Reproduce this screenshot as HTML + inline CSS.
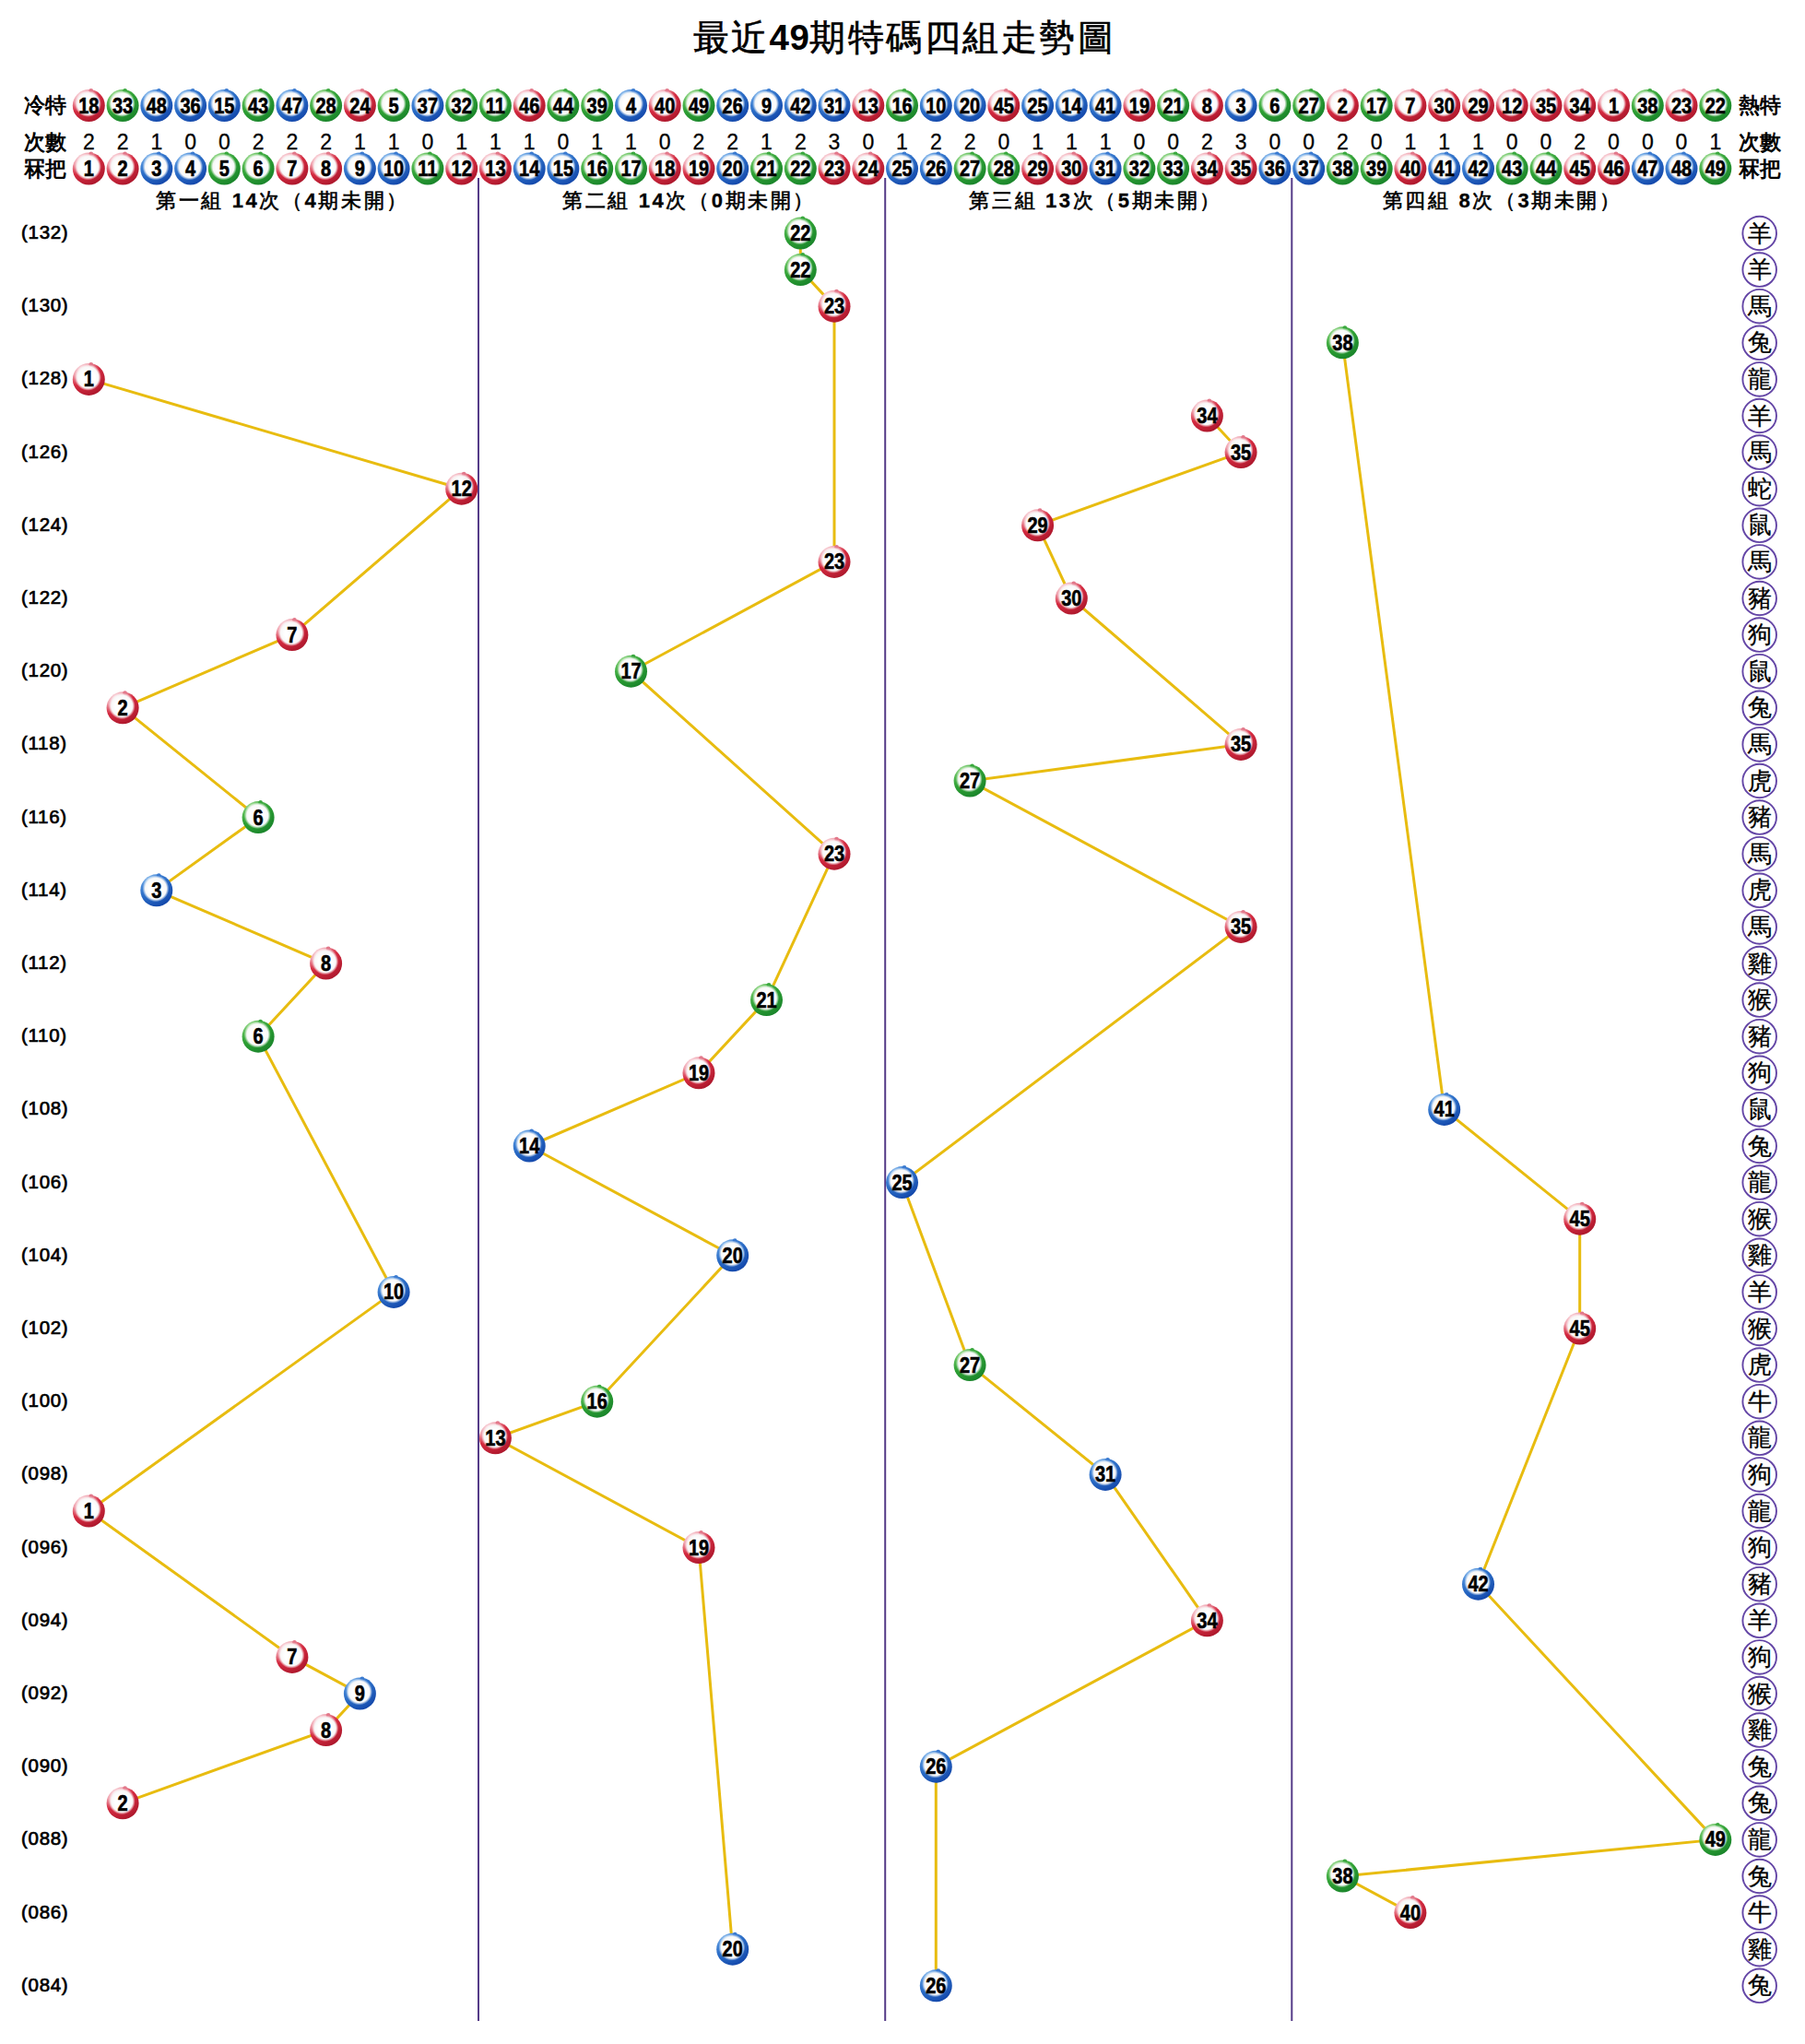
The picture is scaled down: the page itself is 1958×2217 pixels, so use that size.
<!DOCTYPE html>
<html><head><meta charset="utf-8"><style>
html,body{margin:0;padding:0;background:#fff;}
body{width:1958px;height:2217px;position:relative;overflow:hidden;font-family:"Liberation Sans",sans-serif;color:#000;}
.t{position:absolute;white-space:nowrap;line-height:1;}
svg{position:absolute;left:0;top:0;}
.bn{font-family:"Liberation Sans",sans-serif;font-weight:bold;font-size:23px;text-anchor:middle;fill:#000;stroke:#000;stroke-width:0.6px;}
.zc{font-family:"Liberation Serif",serif;font-size:26px;text-anchor:middle;fill:#000;stroke:#000;stroke-width:0.3px;}
.lab{font-family:"Liberation Sans",sans-serif;font-size:23px;font-weight:bold;fill:#000;}
.cnt{font-family:"Liberation Sans",sans-serif;font-size:23px;text-anchor:middle;fill:#000;stroke:#000;stroke-width:0.3px;}
.per{font-family:"Liberation Sans",sans-serif;font-size:20.5px;fill:#000;letter-spacing:0.7px;stroke:#000;stroke-width:0.7px;}
.gh{font-family:"Liberation Sans",sans-serif;font-size:22px;font-weight:normal;text-anchor:middle;fill:#000;letter-spacing:2.6px;stroke:#000;stroke-width:0.6px;}
.ttl{font-family:"Liberation Sans",sans-serif;font-size:39px;font-weight:normal;text-anchor:middle;fill:#000;letter-spacing:2.5px;stroke:#000;stroke-width:0.6px;}
</style></head><body>
<svg width="1958" height="2217" viewBox="0 0 1958 2217">
<defs>
<radialGradient id="or" cx="0.3" cy="0.2" r="0.95"><stop offset="0" stop-color="#fbe4e8"/><stop offset="0.3" stop-color="#f0a4b0"/><stop offset="0.55" stop-color="#d42a40"/><stop offset="1" stop-color="#a01226"/></radialGradient>
<g id="br"><circle r="17.5" fill="url(#or)"/><circle cx="2.5" cy="-16.2" r="2.3" fill="#e2788a"/><circle cx="-0.8" cy="-2" r="14.4" fill="url(#wi)"/></g>
<radialGradient id="og" cx="0.3" cy="0.2" r="0.95"><stop offset="0" stop-color="#b0e4a4"/><stop offset="0.3" stop-color="#5cbc58"/><stop offset="0.55" stop-color="#2ea034"/><stop offset="1" stop-color="#137c28"/></radialGradient>
<g id="bg"><circle r="17.5" fill="url(#og)"/><circle cx="2.5" cy="-16.2" r="2.3" fill="#3aa83e"/><circle cx="-0.8" cy="-2" r="14.4" fill="url(#wi)"/></g>
<radialGradient id="ob" cx="0.3" cy="0.2" r="0.95"><stop offset="0" stop-color="#a8d0f4"/><stop offset="0.3" stop-color="#4a8ad8"/><stop offset="0.55" stop-color="#2a6cc6"/><stop offset="1" stop-color="#0c3ca2"/></radialGradient>
<g id="bb"><circle r="17.5" fill="url(#ob)"/><circle cx="2.5" cy="-16.2" r="2.3" fill="#3a7ad0"/><circle cx="-0.8" cy="-2" r="14.4" fill="url(#wi)"/></g>
<radialGradient id="wi" cx="0.5" cy="0.5" r="0.5">
<stop offset="0" stop-color="#ffffff"/><stop offset="0.5" stop-color="#ffffff"/><stop offset="0.8" stop-color="#f8f8f8" stop-opacity="1"/><stop offset="1" stop-color="#ffffff" stop-opacity="0"/></radialGradient>
</defs>
<text x="981" y="54" class="ttl">最近<tspan style="font-size:38.5px;letter-spacing:0.5px;font-weight:bold;stroke-width:0">49</tspan>期特碼四組走勢圖</text>
<text x="26" y="122" class="lab">冷特</text>
<text x="26" y="162" class="lab">次數</text>
<text x="26" y="191" class="lab">冧把</text>
<text x="1886" y="122" class="lab">熱特</text>
<text x="1886" y="162" class="lab">次數</text>
<text x="1886" y="191" class="lab">冧把</text>
<g transform="translate(96.3,114.5)"><use href="#br"/><text x="0" y="8.0" class="bn" transform="scale(0.87,1)">18</text></g><g transform="translate(133.1,114.5)"><use href="#bg"/><text x="0" y="8.0" class="bn" transform="scale(0.87,1)">33</text></g><g transform="translate(169.8,114.5)"><use href="#bb"/><text x="0" y="8.0" class="bn" transform="scale(0.87,1)">48</text></g><g transform="translate(206.6,114.5)"><use href="#bb"/><text x="0" y="8.0" class="bn" transform="scale(0.87,1)">36</text></g><g transform="translate(243.3,114.5)"><use href="#bb"/><text x="0" y="8.0" class="bn" transform="scale(0.87,1)">15</text></g><g transform="translate(280.1,114.5)"><use href="#bg"/><text x="0" y="8.0" class="bn" transform="scale(0.87,1)">43</text></g><g transform="translate(316.9,114.5)"><use href="#bb"/><text x="0" y="8.0" class="bn" transform="scale(0.87,1)">47</text></g><g transform="translate(353.6,114.5)"><use href="#bg"/><text x="0" y="8.0" class="bn" transform="scale(0.87,1)">28</text></g><g transform="translate(390.4,114.5)"><use href="#br"/><text x="0" y="8.0" class="bn" transform="scale(0.87,1)">24</text></g><g transform="translate(427.1,114.5)"><use href="#bg"/><text x="0" y="8.0" class="bn" transform="scale(0.87,1)">5</text></g><g transform="translate(463.9,114.5)"><use href="#bb"/><text x="0" y="8.0" class="bn" transform="scale(0.87,1)">37</text></g><g transform="translate(500.7,114.5)"><use href="#bg"/><text x="0" y="8.0" class="bn" transform="scale(0.87,1)">32</text></g><g transform="translate(537.4,114.5)"><use href="#bg"/><text x="0" y="8.0" class="bn" transform="scale(0.87,1)">11</text></g><g transform="translate(574.2,114.5)"><use href="#br"/><text x="0" y="8.0" class="bn" transform="scale(0.87,1)">46</text></g><g transform="translate(610.9,114.5)"><use href="#bg"/><text x="0" y="8.0" class="bn" transform="scale(0.87,1)">44</text></g><g transform="translate(647.7,114.5)"><use href="#bg"/><text x="0" y="8.0" class="bn" transform="scale(0.87,1)">39</text></g><g transform="translate(684.5,114.5)"><use href="#bb"/><text x="0" y="8.0" class="bn" transform="scale(0.87,1)">4</text></g><g transform="translate(721.2,114.5)"><use href="#br"/><text x="0" y="8.0" class="bn" transform="scale(0.87,1)">40</text></g><g transform="translate(758.0,114.5)"><use href="#bg"/><text x="0" y="8.0" class="bn" transform="scale(0.87,1)">49</text></g><g transform="translate(794.7,114.5)"><use href="#bb"/><text x="0" y="8.0" class="bn" transform="scale(0.87,1)">26</text></g><g transform="translate(831.5,114.5)"><use href="#bb"/><text x="0" y="8.0" class="bn" transform="scale(0.87,1)">9</text></g><g transform="translate(868.3,114.5)"><use href="#bb"/><text x="0" y="8.0" class="bn" transform="scale(0.87,1)">42</text></g><g transform="translate(905.0,114.5)"><use href="#bb"/><text x="0" y="8.0" class="bn" transform="scale(0.87,1)">31</text></g><g transform="translate(941.8,114.5)"><use href="#br"/><text x="0" y="8.0" class="bn" transform="scale(0.87,1)">13</text></g><g transform="translate(978.5,114.5)"><use href="#bg"/><text x="0" y="8.0" class="bn" transform="scale(0.87,1)">16</text></g><g transform="translate(1015.3,114.5)"><use href="#bb"/><text x="0" y="8.0" class="bn" transform="scale(0.87,1)">10</text></g><g transform="translate(1052.1,114.5)"><use href="#bb"/><text x="0" y="8.0" class="bn" transform="scale(0.87,1)">20</text></g><g transform="translate(1088.8,114.5)"><use href="#br"/><text x="0" y="8.0" class="bn" transform="scale(0.87,1)">45</text></g><g transform="translate(1125.6,114.5)"><use href="#bb"/><text x="0" y="8.0" class="bn" transform="scale(0.87,1)">25</text></g><g transform="translate(1162.3,114.5)"><use href="#bb"/><text x="0" y="8.0" class="bn" transform="scale(0.87,1)">14</text></g><g transform="translate(1199.1,114.5)"><use href="#bb"/><text x="0" y="8.0" class="bn" transform="scale(0.87,1)">41</text></g><g transform="translate(1235.9,114.5)"><use href="#br"/><text x="0" y="8.0" class="bn" transform="scale(0.87,1)">19</text></g><g transform="translate(1272.6,114.5)"><use href="#bg"/><text x="0" y="8.0" class="bn" transform="scale(0.87,1)">21</text></g><g transform="translate(1309.4,114.5)"><use href="#br"/><text x="0" y="8.0" class="bn" transform="scale(0.87,1)">8</text></g><g transform="translate(1346.1,114.5)"><use href="#bb"/><text x="0" y="8.0" class="bn" transform="scale(0.87,1)">3</text></g><g transform="translate(1382.9,114.5)"><use href="#bg"/><text x="0" y="8.0" class="bn" transform="scale(0.87,1)">6</text></g><g transform="translate(1419.7,114.5)"><use href="#bg"/><text x="0" y="8.0" class="bn" transform="scale(0.87,1)">27</text></g><g transform="translate(1456.4,114.5)"><use href="#br"/><text x="0" y="8.0" class="bn" transform="scale(0.87,1)">2</text></g><g transform="translate(1493.2,114.5)"><use href="#bg"/><text x="0" y="8.0" class="bn" transform="scale(0.87,1)">17</text></g><g transform="translate(1529.9,114.5)"><use href="#br"/><text x="0" y="8.0" class="bn" transform="scale(0.87,1)">7</text></g><g transform="translate(1566.7,114.5)"><use href="#br"/><text x="0" y="8.0" class="bn" transform="scale(0.87,1)">30</text></g><g transform="translate(1603.5,114.5)"><use href="#br"/><text x="0" y="8.0" class="bn" transform="scale(0.87,1)">29</text></g><g transform="translate(1640.2,114.5)"><use href="#br"/><text x="0" y="8.0" class="bn" transform="scale(0.87,1)">12</text></g><g transform="translate(1677.0,114.5)"><use href="#br"/><text x="0" y="8.0" class="bn" transform="scale(0.87,1)">35</text></g><g transform="translate(1713.7,114.5)"><use href="#br"/><text x="0" y="8.0" class="bn" transform="scale(0.87,1)">34</text></g><g transform="translate(1750.5,114.5)"><use href="#br"/><text x="0" y="8.0" class="bn" transform="scale(0.87,1)">1</text></g><g transform="translate(1787.3,114.5)"><use href="#bg"/><text x="0" y="8.0" class="bn" transform="scale(0.87,1)">38</text></g><g transform="translate(1824.0,114.5)"><use href="#br"/><text x="0" y="8.0" class="bn" transform="scale(0.87,1)">23</text></g><g transform="translate(1860.8,114.5)"><use href="#bg"/><text x="0" y="8.0" class="bn" transform="scale(0.87,1)">22</text></g>
<text x="96.3" y="162" class="cnt">2</text><text x="133.1" y="162" class="cnt">2</text><text x="169.8" y="162" class="cnt">1</text><text x="206.6" y="162" class="cnt">0</text><text x="243.3" y="162" class="cnt">0</text><text x="280.1" y="162" class="cnt">2</text><text x="316.9" y="162" class="cnt">2</text><text x="353.6" y="162" class="cnt">2</text><text x="390.4" y="162" class="cnt">1</text><text x="427.1" y="162" class="cnt">1</text><text x="463.9" y="162" class="cnt">0</text><text x="500.7" y="162" class="cnt">1</text><text x="537.4" y="162" class="cnt">1</text><text x="574.2" y="162" class="cnt">1</text><text x="610.9" y="162" class="cnt">0</text><text x="647.7" y="162" class="cnt">1</text><text x="684.5" y="162" class="cnt">1</text><text x="721.2" y="162" class="cnt">0</text><text x="758.0" y="162" class="cnt">2</text><text x="794.7" y="162" class="cnt">2</text><text x="831.5" y="162" class="cnt">1</text><text x="868.3" y="162" class="cnt">2</text><text x="905.0" y="162" class="cnt">3</text><text x="941.8" y="162" class="cnt">0</text><text x="978.5" y="162" class="cnt">1</text><text x="1015.3" y="162" class="cnt">2</text><text x="1052.1" y="162" class="cnt">2</text><text x="1088.8" y="162" class="cnt">0</text><text x="1125.6" y="162" class="cnt">1</text><text x="1162.3" y="162" class="cnt">1</text><text x="1199.1" y="162" class="cnt">1</text><text x="1235.9" y="162" class="cnt">0</text><text x="1272.6" y="162" class="cnt">0</text><text x="1309.4" y="162" class="cnt">2</text><text x="1346.1" y="162" class="cnt">3</text><text x="1382.9" y="162" class="cnt">0</text><text x="1419.7" y="162" class="cnt">0</text><text x="1456.4" y="162" class="cnt">2</text><text x="1493.2" y="162" class="cnt">0</text><text x="1529.9" y="162" class="cnt">1</text><text x="1566.7" y="162" class="cnt">1</text><text x="1603.5" y="162" class="cnt">1</text><text x="1640.2" y="162" class="cnt">0</text><text x="1677.0" y="162" class="cnt">0</text><text x="1713.7" y="162" class="cnt">2</text><text x="1750.5" y="162" class="cnt">0</text><text x="1787.3" y="162" class="cnt">0</text><text x="1824.0" y="162" class="cnt">0</text><text x="1860.8" y="162" class="cnt">1</text>
<g transform="translate(96.3,183.0)"><use href="#br"/><text x="0" y="8.0" class="bn" transform="scale(0.87,1)">1</text></g><g transform="translate(133.1,183.0)"><use href="#br"/><text x="0" y="8.0" class="bn" transform="scale(0.87,1)">2</text></g><g transform="translate(169.8,183.0)"><use href="#bb"/><text x="0" y="8.0" class="bn" transform="scale(0.87,1)">3</text></g><g transform="translate(206.6,183.0)"><use href="#bb"/><text x="0" y="8.0" class="bn" transform="scale(0.87,1)">4</text></g><g transform="translate(243.3,183.0)"><use href="#bg"/><text x="0" y="8.0" class="bn" transform="scale(0.87,1)">5</text></g><g transform="translate(280.1,183.0)"><use href="#bg"/><text x="0" y="8.0" class="bn" transform="scale(0.87,1)">6</text></g><g transform="translate(316.9,183.0)"><use href="#br"/><text x="0" y="8.0" class="bn" transform="scale(0.87,1)">7</text></g><g transform="translate(353.6,183.0)"><use href="#br"/><text x="0" y="8.0" class="bn" transform="scale(0.87,1)">8</text></g><g transform="translate(390.4,183.0)"><use href="#bb"/><text x="0" y="8.0" class="bn" transform="scale(0.87,1)">9</text></g><g transform="translate(427.1,183.0)"><use href="#bb"/><text x="0" y="8.0" class="bn" transform="scale(0.87,1)">10</text></g><g transform="translate(463.9,183.0)"><use href="#bg"/><text x="0" y="8.0" class="bn" transform="scale(0.87,1)">11</text></g><g transform="translate(500.7,183.0)"><use href="#br"/><text x="0" y="8.0" class="bn" transform="scale(0.87,1)">12</text></g><g transform="translate(537.4,183.0)"><use href="#br"/><text x="0" y="8.0" class="bn" transform="scale(0.87,1)">13</text></g><g transform="translate(574.2,183.0)"><use href="#bb"/><text x="0" y="8.0" class="bn" transform="scale(0.87,1)">14</text></g><g transform="translate(610.9,183.0)"><use href="#bb"/><text x="0" y="8.0" class="bn" transform="scale(0.87,1)">15</text></g><g transform="translate(647.7,183.0)"><use href="#bg"/><text x="0" y="8.0" class="bn" transform="scale(0.87,1)">16</text></g><g transform="translate(684.5,183.0)"><use href="#bg"/><text x="0" y="8.0" class="bn" transform="scale(0.87,1)">17</text></g><g transform="translate(721.2,183.0)"><use href="#br"/><text x="0" y="8.0" class="bn" transform="scale(0.87,1)">18</text></g><g transform="translate(758.0,183.0)"><use href="#br"/><text x="0" y="8.0" class="bn" transform="scale(0.87,1)">19</text></g><g transform="translate(794.7,183.0)"><use href="#bb"/><text x="0" y="8.0" class="bn" transform="scale(0.87,1)">20</text></g><g transform="translate(831.5,183.0)"><use href="#bg"/><text x="0" y="8.0" class="bn" transform="scale(0.87,1)">21</text></g><g transform="translate(868.3,183.0)"><use href="#bg"/><text x="0" y="8.0" class="bn" transform="scale(0.87,1)">22</text></g><g transform="translate(905.0,183.0)"><use href="#br"/><text x="0" y="8.0" class="bn" transform="scale(0.87,1)">23</text></g><g transform="translate(941.8,183.0)"><use href="#br"/><text x="0" y="8.0" class="bn" transform="scale(0.87,1)">24</text></g><g transform="translate(978.5,183.0)"><use href="#bb"/><text x="0" y="8.0" class="bn" transform="scale(0.87,1)">25</text></g><g transform="translate(1015.3,183.0)"><use href="#bb"/><text x="0" y="8.0" class="bn" transform="scale(0.87,1)">26</text></g><g transform="translate(1052.1,183.0)"><use href="#bg"/><text x="0" y="8.0" class="bn" transform="scale(0.87,1)">27</text></g><g transform="translate(1088.8,183.0)"><use href="#bg"/><text x="0" y="8.0" class="bn" transform="scale(0.87,1)">28</text></g><g transform="translate(1125.6,183.0)"><use href="#br"/><text x="0" y="8.0" class="bn" transform="scale(0.87,1)">29</text></g><g transform="translate(1162.3,183.0)"><use href="#br"/><text x="0" y="8.0" class="bn" transform="scale(0.87,1)">30</text></g><g transform="translate(1199.1,183.0)"><use href="#bb"/><text x="0" y="8.0" class="bn" transform="scale(0.87,1)">31</text></g><g transform="translate(1235.9,183.0)"><use href="#bg"/><text x="0" y="8.0" class="bn" transform="scale(0.87,1)">32</text></g><g transform="translate(1272.6,183.0)"><use href="#bg"/><text x="0" y="8.0" class="bn" transform="scale(0.87,1)">33</text></g><g transform="translate(1309.4,183.0)"><use href="#br"/><text x="0" y="8.0" class="bn" transform="scale(0.87,1)">34</text></g><g transform="translate(1346.1,183.0)"><use href="#br"/><text x="0" y="8.0" class="bn" transform="scale(0.87,1)">35</text></g><g transform="translate(1382.9,183.0)"><use href="#bb"/><text x="0" y="8.0" class="bn" transform="scale(0.87,1)">36</text></g><g transform="translate(1419.7,183.0)"><use href="#bb"/><text x="0" y="8.0" class="bn" transform="scale(0.87,1)">37</text></g><g transform="translate(1456.4,183.0)"><use href="#bg"/><text x="0" y="8.0" class="bn" transform="scale(0.87,1)">38</text></g><g transform="translate(1493.2,183.0)"><use href="#bg"/><text x="0" y="8.0" class="bn" transform="scale(0.87,1)">39</text></g><g transform="translate(1529.9,183.0)"><use href="#br"/><text x="0" y="8.0" class="bn" transform="scale(0.87,1)">40</text></g><g transform="translate(1566.7,183.0)"><use href="#bb"/><text x="0" y="8.0" class="bn" transform="scale(0.87,1)">41</text></g><g transform="translate(1603.5,183.0)"><use href="#bb"/><text x="0" y="8.0" class="bn" transform="scale(0.87,1)">42</text></g><g transform="translate(1640.2,183.0)"><use href="#bg"/><text x="0" y="8.0" class="bn" transform="scale(0.87,1)">43</text></g><g transform="translate(1677.0,183.0)"><use href="#bg"/><text x="0" y="8.0" class="bn" transform="scale(0.87,1)">44</text></g><g transform="translate(1713.7,183.0)"><use href="#br"/><text x="0" y="8.0" class="bn" transform="scale(0.87,1)">45</text></g><g transform="translate(1750.5,183.0)"><use href="#br"/><text x="0" y="8.0" class="bn" transform="scale(0.87,1)">46</text></g><g transform="translate(1787.3,183.0)"><use href="#bb"/><text x="0" y="8.0" class="bn" transform="scale(0.87,1)">47</text></g><g transform="translate(1824.0,183.0)"><use href="#bb"/><text x="0" y="8.0" class="bn" transform="scale(0.87,1)">48</text></g><g transform="translate(1860.8,183.0)"><use href="#bg"/><text x="0" y="8.0" class="bn" transform="scale(0.87,1)">49</text></g>
<text x="306.5" y="225" class="gh">第一組 <tspan style="font-weight:bold;stroke-width:0.3px">14</tspan>次（<tspan style="font-weight:bold;stroke-width:0.3px">4</tspan>期未開）</text>
<text x="747.6" y="225" class="gh">第二組 <tspan style="font-weight:bold;stroke-width:0.3px">14</tspan>次（<tspan style="font-weight:bold;stroke-width:0.3px">0</tspan>期未開）</text>
<text x="1188.7" y="225" class="gh">第三組 <tspan style="font-weight:bold;stroke-width:0.3px">13</tspan>次（<tspan style="font-weight:bold;stroke-width:0.3px">5</tspan>期未開）</text>
<text x="1629.8" y="225" class="gh">第四組 <tspan style="font-weight:bold;stroke-width:0.3px">8</tspan>次（<tspan style="font-weight:bold;stroke-width:0.3px">3</tspan>期未開）</text>
<line x1="519.0" y1="193" x2="519.0" y2="2192" stroke="#553b88" stroke-width="2"/>
<line x1="960.2" y1="193" x2="960.2" y2="2192" stroke="#553b88" stroke-width="2"/>
<line x1="1401.3" y1="193" x2="1401.3" y2="2192" stroke="#553b88" stroke-width="2"/>
<text x="23" y="259.0" class="per">(132)</text>
<text x="23" y="338.2" class="per">(130)</text>
<text x="23" y="417.4" class="per">(128)</text>
<text x="23" y="496.6" class="per">(126)</text>
<text x="23" y="575.8" class="per">(124)</text>
<text x="23" y="655.0" class="per">(122)</text>
<text x="23" y="734.2" class="per">(120)</text>
<text x="23" y="813.4" class="per">(118)</text>
<text x="23" y="892.6" class="per">(116)</text>
<text x="23" y="971.8" class="per">(114)</text>
<text x="23" y="1051.0" class="per">(112)</text>
<text x="23" y="1130.2" class="per">(110)</text>
<text x="23" y="1209.4" class="per">(108)</text>
<text x="23" y="1288.6" class="per">(106)</text>
<text x="23" y="1367.8" class="per">(104)</text>
<text x="23" y="1447.0" class="per">(102)</text>
<text x="23" y="1526.2" class="per">(100)</text>
<text x="23" y="1605.4" class="per">(098)</text>
<text x="23" y="1684.6" class="per">(096)</text>
<text x="23" y="1763.8" class="per">(094)</text>
<text x="23" y="1843.0" class="per">(092)</text>
<text x="23" y="1922.2" class="per">(090)</text>
<text x="23" y="2001.4" class="per">(088)</text>
<text x="23" y="2080.6" class="per">(086)</text>
<text x="23" y="2159.8" class="per">(084)</text>
<circle cx="1908.7" cy="253.0" r="18.3" fill="none" stroke="#6446a6" stroke-width="1.9"/><text x="1908.7" y="261.5" class="zc">羊</text>
<circle cx="1908.7" cy="292.6" r="18.3" fill="none" stroke="#6446a6" stroke-width="1.9"/><text x="1908.7" y="301.1" class="zc">羊</text>
<circle cx="1908.7" cy="332.2" r="18.3" fill="none" stroke="#6446a6" stroke-width="1.9"/><text x="1908.7" y="340.7" class="zc">馬</text>
<circle cx="1908.7" cy="371.8" r="18.3" fill="none" stroke="#6446a6" stroke-width="1.9"/><text x="1908.7" y="380.3" class="zc">兔</text>
<circle cx="1908.7" cy="411.4" r="18.3" fill="none" stroke="#6446a6" stroke-width="1.9"/><text x="1908.7" y="419.9" class="zc">龍</text>
<circle cx="1908.7" cy="451.0" r="18.3" fill="none" stroke="#6446a6" stroke-width="1.9"/><text x="1908.7" y="459.5" class="zc">羊</text>
<circle cx="1908.7" cy="490.6" r="18.3" fill="none" stroke="#6446a6" stroke-width="1.9"/><text x="1908.7" y="499.1" class="zc">馬</text>
<circle cx="1908.7" cy="530.2" r="18.3" fill="none" stroke="#6446a6" stroke-width="1.9"/><text x="1908.7" y="538.7" class="zc">蛇</text>
<circle cx="1908.7" cy="569.8" r="18.3" fill="none" stroke="#6446a6" stroke-width="1.9"/><text x="1908.7" y="578.3" class="zc">鼠</text>
<circle cx="1908.7" cy="609.4" r="18.3" fill="none" stroke="#6446a6" stroke-width="1.9"/><text x="1908.7" y="617.9" class="zc">馬</text>
<circle cx="1908.7" cy="649.0" r="18.3" fill="none" stroke="#6446a6" stroke-width="1.9"/><text x="1908.7" y="657.5" class="zc">豬</text>
<circle cx="1908.7" cy="688.6" r="18.3" fill="none" stroke="#6446a6" stroke-width="1.9"/><text x="1908.7" y="697.1" class="zc">狗</text>
<circle cx="1908.7" cy="728.2" r="18.3" fill="none" stroke="#6446a6" stroke-width="1.9"/><text x="1908.7" y="736.7" class="zc">鼠</text>
<circle cx="1908.7" cy="767.8" r="18.3" fill="none" stroke="#6446a6" stroke-width="1.9"/><text x="1908.7" y="776.3" class="zc">兔</text>
<circle cx="1908.7" cy="807.4" r="18.3" fill="none" stroke="#6446a6" stroke-width="1.9"/><text x="1908.7" y="815.9" class="zc">馬</text>
<circle cx="1908.7" cy="847.0" r="18.3" fill="none" stroke="#6446a6" stroke-width="1.9"/><text x="1908.7" y="855.5" class="zc">虎</text>
<circle cx="1908.7" cy="886.6" r="18.3" fill="none" stroke="#6446a6" stroke-width="1.9"/><text x="1908.7" y="895.1" class="zc">豬</text>
<circle cx="1908.7" cy="926.2" r="18.3" fill="none" stroke="#6446a6" stroke-width="1.9"/><text x="1908.7" y="934.7" class="zc">馬</text>
<circle cx="1908.7" cy="965.8" r="18.3" fill="none" stroke="#6446a6" stroke-width="1.9"/><text x="1908.7" y="974.3" class="zc">虎</text>
<circle cx="1908.7" cy="1005.4" r="18.3" fill="none" stroke="#6446a6" stroke-width="1.9"/><text x="1908.7" y="1013.9" class="zc">馬</text>
<circle cx="1908.7" cy="1045.0" r="18.3" fill="none" stroke="#6446a6" stroke-width="1.9"/><text x="1908.7" y="1053.5" class="zc">雞</text>
<circle cx="1908.7" cy="1084.6" r="18.3" fill="none" stroke="#6446a6" stroke-width="1.9"/><text x="1908.7" y="1093.1" class="zc">猴</text>
<circle cx="1908.7" cy="1124.2" r="18.3" fill="none" stroke="#6446a6" stroke-width="1.9"/><text x="1908.7" y="1132.7" class="zc">豬</text>
<circle cx="1908.7" cy="1163.8" r="18.3" fill="none" stroke="#6446a6" stroke-width="1.9"/><text x="1908.7" y="1172.3" class="zc">狗</text>
<circle cx="1908.7" cy="1203.4" r="18.3" fill="none" stroke="#6446a6" stroke-width="1.9"/><text x="1908.7" y="1211.9" class="zc">鼠</text>
<circle cx="1908.7" cy="1243.0" r="18.3" fill="none" stroke="#6446a6" stroke-width="1.9"/><text x="1908.7" y="1251.5" class="zc">兔</text>
<circle cx="1908.7" cy="1282.6" r="18.3" fill="none" stroke="#6446a6" stroke-width="1.9"/><text x="1908.7" y="1291.1" class="zc">龍</text>
<circle cx="1908.7" cy="1322.2" r="18.3" fill="none" stroke="#6446a6" stroke-width="1.9"/><text x="1908.7" y="1330.7" class="zc">猴</text>
<circle cx="1908.7" cy="1361.8" r="18.3" fill="none" stroke="#6446a6" stroke-width="1.9"/><text x="1908.7" y="1370.3" class="zc">雞</text>
<circle cx="1908.7" cy="1401.4" r="18.3" fill="none" stroke="#6446a6" stroke-width="1.9"/><text x="1908.7" y="1409.9" class="zc">羊</text>
<circle cx="1908.7" cy="1441.0" r="18.3" fill="none" stroke="#6446a6" stroke-width="1.9"/><text x="1908.7" y="1449.5" class="zc">猴</text>
<circle cx="1908.7" cy="1480.6" r="18.3" fill="none" stroke="#6446a6" stroke-width="1.9"/><text x="1908.7" y="1489.1" class="zc">虎</text>
<circle cx="1908.7" cy="1520.2" r="18.3" fill="none" stroke="#6446a6" stroke-width="1.9"/><text x="1908.7" y="1528.7" class="zc">牛</text>
<circle cx="1908.7" cy="1559.8" r="18.3" fill="none" stroke="#6446a6" stroke-width="1.9"/><text x="1908.7" y="1568.3" class="zc">龍</text>
<circle cx="1908.7" cy="1599.4" r="18.3" fill="none" stroke="#6446a6" stroke-width="1.9"/><text x="1908.7" y="1607.9" class="zc">狗</text>
<circle cx="1908.7" cy="1639.0" r="18.3" fill="none" stroke="#6446a6" stroke-width="1.9"/><text x="1908.7" y="1647.5" class="zc">龍</text>
<circle cx="1908.7" cy="1678.6" r="18.3" fill="none" stroke="#6446a6" stroke-width="1.9"/><text x="1908.7" y="1687.1" class="zc">狗</text>
<circle cx="1908.7" cy="1718.2" r="18.3" fill="none" stroke="#6446a6" stroke-width="1.9"/><text x="1908.7" y="1726.7" class="zc">豬</text>
<circle cx="1908.7" cy="1757.8" r="18.3" fill="none" stroke="#6446a6" stroke-width="1.9"/><text x="1908.7" y="1766.3" class="zc">羊</text>
<circle cx="1908.7" cy="1797.4" r="18.3" fill="none" stroke="#6446a6" stroke-width="1.9"/><text x="1908.7" y="1805.9" class="zc">狗</text>
<circle cx="1908.7" cy="1837.0" r="18.3" fill="none" stroke="#6446a6" stroke-width="1.9"/><text x="1908.7" y="1845.5" class="zc">猴</text>
<circle cx="1908.7" cy="1876.6" r="18.3" fill="none" stroke="#6446a6" stroke-width="1.9"/><text x="1908.7" y="1885.1" class="zc">雞</text>
<circle cx="1908.7" cy="1916.2" r="18.3" fill="none" stroke="#6446a6" stroke-width="1.9"/><text x="1908.7" y="1924.7" class="zc">兔</text>
<circle cx="1908.7" cy="1955.8" r="18.3" fill="none" stroke="#6446a6" stroke-width="1.9"/><text x="1908.7" y="1964.3" class="zc">兔</text>
<circle cx="1908.7" cy="1995.4" r="18.3" fill="none" stroke="#6446a6" stroke-width="1.9"/><text x="1908.7" y="2003.9" class="zc">龍</text>
<circle cx="1908.7" cy="2035.0" r="18.3" fill="none" stroke="#6446a6" stroke-width="1.9"/><text x="1908.7" y="2043.5" class="zc">兔</text>
<circle cx="1908.7" cy="2074.6" r="18.3" fill="none" stroke="#6446a6" stroke-width="1.9"/><text x="1908.7" y="2083.1" class="zc">牛</text>
<circle cx="1908.7" cy="2114.2" r="18.3" fill="none" stroke="#6446a6" stroke-width="1.9"/><text x="1908.7" y="2122.7" class="zc">雞</text>
<circle cx="1908.7" cy="2153.8" r="18.3" fill="none" stroke="#6446a6" stroke-width="1.9"/><text x="1908.7" y="2162.3" class="zc">兔</text>
<polyline points="96.3,411.4 500.7,530.2 316.9,688.6 133.1,767.8 280.1,886.6 169.8,965.8 353.6,1045.0 280.1,1124.2 427.1,1401.4 96.3,1639.0 316.9,1797.4 390.4,1837.0 353.6,1876.6 133.1,1955.8" fill="none" stroke="#e8bc10" stroke-width="3"/>
<polyline points="868.3,253.0 868.3,292.6 905.0,332.2 905.0,609.4 684.5,728.2 905.0,926.2 831.5,1084.6 758.0,1163.8 574.2,1243.0 794.7,1361.8 647.7,1520.2 537.4,1559.8 758.0,1678.6 794.7,2114.2" fill="none" stroke="#e8bc10" stroke-width="3"/>
<polyline points="1309.4,451.0 1346.1,490.6 1125.6,569.8 1162.3,649.0 1346.1,807.4 1052.1,847.0 1346.1,1005.4 978.5,1282.6 1052.1,1480.6 1199.1,1599.4 1309.4,1757.8 1015.3,1916.2 1015.3,2153.8" fill="none" stroke="#e8bc10" stroke-width="3"/>
<polyline points="1456.4,371.8 1566.7,1203.4 1713.7,1322.2 1713.7,1441.0 1603.5,1718.2 1860.8,1995.4 1456.4,2035.0 1529.9,2074.6" fill="none" stroke="#e8bc10" stroke-width="3"/>
<g transform="translate(868.3,253.0)"><use href="#bg"/><text x="0" y="8.0" class="bn" transform="scale(0.87,1)">22</text></g><g transform="translate(868.3,292.6)"><use href="#bg"/><text x="0" y="8.0" class="bn" transform="scale(0.87,1)">22</text></g><g transform="translate(905.0,332.2)"><use href="#br"/><text x="0" y="8.0" class="bn" transform="scale(0.87,1)">23</text></g><g transform="translate(1456.4,371.8)"><use href="#bg"/><text x="0" y="8.0" class="bn" transform="scale(0.87,1)">38</text></g><g transform="translate(96.3,411.4)"><use href="#br"/><text x="0" y="8.0" class="bn" transform="scale(0.87,1)">1</text></g><g transform="translate(1309.4,451.0)"><use href="#br"/><text x="0" y="8.0" class="bn" transform="scale(0.87,1)">34</text></g><g transform="translate(1346.1,490.6)"><use href="#br"/><text x="0" y="8.0" class="bn" transform="scale(0.87,1)">35</text></g><g transform="translate(500.7,530.2)"><use href="#br"/><text x="0" y="8.0" class="bn" transform="scale(0.87,1)">12</text></g><g transform="translate(1125.6,569.8)"><use href="#br"/><text x="0" y="8.0" class="bn" transform="scale(0.87,1)">29</text></g><g transform="translate(905.0,609.4)"><use href="#br"/><text x="0" y="8.0" class="bn" transform="scale(0.87,1)">23</text></g><g transform="translate(1162.3,649.0)"><use href="#br"/><text x="0" y="8.0" class="bn" transform="scale(0.87,1)">30</text></g><g transform="translate(316.9,688.6)"><use href="#br"/><text x="0" y="8.0" class="bn" transform="scale(0.87,1)">7</text></g><g transform="translate(684.5,728.2)"><use href="#bg"/><text x="0" y="8.0" class="bn" transform="scale(0.87,1)">17</text></g><g transform="translate(133.1,767.8)"><use href="#br"/><text x="0" y="8.0" class="bn" transform="scale(0.87,1)">2</text></g><g transform="translate(1346.1,807.4)"><use href="#br"/><text x="0" y="8.0" class="bn" transform="scale(0.87,1)">35</text></g><g transform="translate(1052.1,847.0)"><use href="#bg"/><text x="0" y="8.0" class="bn" transform="scale(0.87,1)">27</text></g><g transform="translate(280.1,886.6)"><use href="#bg"/><text x="0" y="8.0" class="bn" transform="scale(0.87,1)">6</text></g><g transform="translate(905.0,926.2)"><use href="#br"/><text x="0" y="8.0" class="bn" transform="scale(0.87,1)">23</text></g><g transform="translate(169.8,965.8)"><use href="#bb"/><text x="0" y="8.0" class="bn" transform="scale(0.87,1)">3</text></g><g transform="translate(1346.1,1005.4)"><use href="#br"/><text x="0" y="8.0" class="bn" transform="scale(0.87,1)">35</text></g><g transform="translate(353.6,1045.0)"><use href="#br"/><text x="0" y="8.0" class="bn" transform="scale(0.87,1)">8</text></g><g transform="translate(831.5,1084.6)"><use href="#bg"/><text x="0" y="8.0" class="bn" transform="scale(0.87,1)">21</text></g><g transform="translate(280.1,1124.2)"><use href="#bg"/><text x="0" y="8.0" class="bn" transform="scale(0.87,1)">6</text></g><g transform="translate(758.0,1163.8)"><use href="#br"/><text x="0" y="8.0" class="bn" transform="scale(0.87,1)">19</text></g><g transform="translate(1566.7,1203.4)"><use href="#bb"/><text x="0" y="8.0" class="bn" transform="scale(0.87,1)">41</text></g><g transform="translate(574.2,1243.0)"><use href="#bb"/><text x="0" y="8.0" class="bn" transform="scale(0.87,1)">14</text></g><g transform="translate(978.5,1282.6)"><use href="#bb"/><text x="0" y="8.0" class="bn" transform="scale(0.87,1)">25</text></g><g transform="translate(1713.7,1322.2)"><use href="#br"/><text x="0" y="8.0" class="bn" transform="scale(0.87,1)">45</text></g><g transform="translate(794.7,1361.8)"><use href="#bb"/><text x="0" y="8.0" class="bn" transform="scale(0.87,1)">20</text></g><g transform="translate(427.1,1401.4)"><use href="#bb"/><text x="0" y="8.0" class="bn" transform="scale(0.87,1)">10</text></g><g transform="translate(1713.7,1441.0)"><use href="#br"/><text x="0" y="8.0" class="bn" transform="scale(0.87,1)">45</text></g><g transform="translate(1052.1,1480.6)"><use href="#bg"/><text x="0" y="8.0" class="bn" transform="scale(0.87,1)">27</text></g><g transform="translate(647.7,1520.2)"><use href="#bg"/><text x="0" y="8.0" class="bn" transform="scale(0.87,1)">16</text></g><g transform="translate(537.4,1559.8)"><use href="#br"/><text x="0" y="8.0" class="bn" transform="scale(0.87,1)">13</text></g><g transform="translate(1199.1,1599.4)"><use href="#bb"/><text x="0" y="8.0" class="bn" transform="scale(0.87,1)">31</text></g><g transform="translate(96.3,1639.0)"><use href="#br"/><text x="0" y="8.0" class="bn" transform="scale(0.87,1)">1</text></g><g transform="translate(758.0,1678.6)"><use href="#br"/><text x="0" y="8.0" class="bn" transform="scale(0.87,1)">19</text></g><g transform="translate(1603.5,1718.2)"><use href="#bb"/><text x="0" y="8.0" class="bn" transform="scale(0.87,1)">42</text></g><g transform="translate(1309.4,1757.8)"><use href="#br"/><text x="0" y="8.0" class="bn" transform="scale(0.87,1)">34</text></g><g transform="translate(316.9,1797.4)"><use href="#br"/><text x="0" y="8.0" class="bn" transform="scale(0.87,1)">7</text></g><g transform="translate(390.4,1837.0)"><use href="#bb"/><text x="0" y="8.0" class="bn" transform="scale(0.87,1)">9</text></g><g transform="translate(353.6,1876.6)"><use href="#br"/><text x="0" y="8.0" class="bn" transform="scale(0.87,1)">8</text></g><g transform="translate(1015.3,1916.2)"><use href="#bb"/><text x="0" y="8.0" class="bn" transform="scale(0.87,1)">26</text></g><g transform="translate(133.1,1955.8)"><use href="#br"/><text x="0" y="8.0" class="bn" transform="scale(0.87,1)">2</text></g><g transform="translate(1860.8,1995.4)"><use href="#bg"/><text x="0" y="8.0" class="bn" transform="scale(0.87,1)">49</text></g><g transform="translate(1456.4,2035.0)"><use href="#bg"/><text x="0" y="8.0" class="bn" transform="scale(0.87,1)">38</text></g><g transform="translate(1529.9,2074.6)"><use href="#br"/><text x="0" y="8.0" class="bn" transform="scale(0.87,1)">40</text></g><g transform="translate(794.7,2114.2)"><use href="#bb"/><text x="0" y="8.0" class="bn" transform="scale(0.87,1)">20</text></g><g transform="translate(1015.3,2153.8)"><use href="#bb"/><text x="0" y="8.0" class="bn" transform="scale(0.87,1)">26</text></g>
</svg>
</body></html>
